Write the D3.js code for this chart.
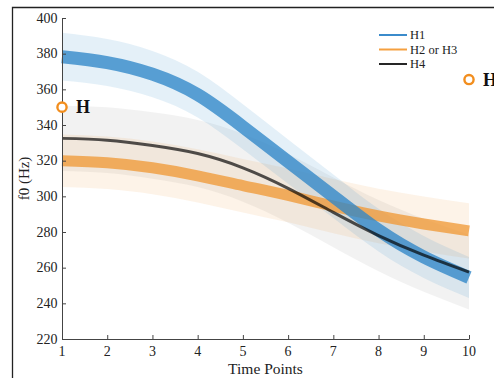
<!DOCTYPE html>
<html>
<head>
<meta charset="utf-8">
<script src="https://cdn.jsdelivr.net/npm/d3@7/dist/d3.min.js"></script>
<style>
  body { margin: 0; background: #fff; }
  svg { display: block; font-family: "Liberation Serif", "Times New Roman", serif; }
</style>
</head>
<body>
<div id="chart"></div>
<script>
// time points on the x axis
var timePoints = [1, 2, 3, 4, 5, 6, 7, 8, 9, 10];

// fitted f0 curves (Hz) and half widths of the shaded bands
var h1Mean = [378.3, 375, 368.5, 357, 339, 319.5, 300, 281, 266, 254.5];
var h1Band = [13.4, 13.2, 13, 12.8, 12.6, 12.4, 12.2, 12, 11.8, 11.5];
var h23Mean = [320, 318.8, 316, 311.5, 306, 300.5, 294.5, 289, 284.5, 280.6];
var h23Band = [14.7, 14.7, 14.8, 14.9, 15, 15.1, 15.2, 15.3, 15.4, 15.5];
var h4Mean = [332.5, 331.5, 328.5, 324, 316, 304.5, 291, 278, 267, 257.5];
var h4Band = [18.3, 18.4, 18.6, 18.8, 19, 19.3, 19.6, 20, 20.5, 21];

var legendNames = ["H1", "H2 or H3", "H4"];
var yTicks = [220, 240, 260, 280, 300, 320, 340, 360, 380, 400];

// the "H" target markers, [time, f0]
var targetLeft = [1, 350];
var targetRight = [10, 365.5];

var W = 494, H = 378;
var svg = d3.select("#chart").append("svg")
  .attr("width", W)
  .attr("height", H);

var x = d3.scaleLinear().domain([1, 10]).range([62, 469]);
var y = d3.scaleLinear().domain([220, 400]).range([339, 18]);

// frame of the cropped figure
svg.append("path")
  .attr("d", "M12.5," + H + "V7.5H" + W)
  .attr("fill", "none")
  .attr("stroke", "#222")
  .attr("stroke-width", 1.3);

var series = [
  {name: "H4", mean: h4Mean, band: h4Band, band_fill: "#7f7f7f", band_op: 0.1},
  {name: "H2 or H3", mean: h23Mean, band: h23Band, band_fill: "#f2a24a", band_op: 0.13},
  {name: "H1", mean: h1Mean, band: h1Band, band_fill: "#4a97d2", band_op: 0.15}
];

var area = function(s) {
  return d3.area()
    .x(function(d, i) { return x(timePoints[i]); })
    .y0(function(d, i) { return y(d - s.band[i]); })
    .y1(function(d, i) { return y(d + s.band[i]); })
    .curve(d3.curveNatural)(s.mean);
};

var line = d3.line()
  .x(function(d, i) { return x(timePoints[i]); })
  .y(function(d) { return y(d); })
  .curve(d3.curveNatural);

svg.append("g").selectAll("path")
  .data(series)
  .enter()
  .append("path")
  .attr("d", area)
  .attr("fill", function(d) { return d.band_fill; })
  .attr("fill-opacity", function(d) { return d.band_op; });

// thick mean curves
svg.append("path")
  .attr("d", line(h23Mean))
  .attr("fill", "none")
  .attr("stroke", "#f09a38")
  .attr("stroke-opacity", 0.78)
  .attr("stroke-width", 11);

svg.append("path")
  .attr("d", line(h1Mean))
  .attr("fill", "none")
  .attr("stroke", "#2f86c8")
  .attr("stroke-opacity", 0.78)
  .attr("stroke-width", 13);

svg.append("path")
  .attr("d", line(h4Mean))
  .attr("fill", "none")
  .attr("stroke", "#000")
  .attr("stroke-opacity", 0.68)
  .attr("stroke-width", 3);

// axes, ticks pointing inward
var axisColor = "#444";
var yAxis = svg.append("g")
  .attr("transform", "translate(" + x(1) + ",0)")
  .call(d3.axisRight(y).tickValues(yTicks).tickSize(4).tickSizeOuter(0).tickFormat(""));
var xAxis = svg.append("g")
  .attr("transform", "translate(0," + y(220) + ")")
  .call(d3.axisTop(x).tickValues(timePoints).tickSize(4).tickSizeOuter(0).tickFormat(""));
[xAxis, yAxis].forEach(function(a) {
  a.select(".domain").attr("stroke", axisColor);
  a.selectAll(".tick line").attr("stroke", axisColor);
});

svg.append("g").selectAll("text")
  .data(yTicks)
  .enter()
  .append("text")
  .attr("x", x(1) - 4.5)
  .attr("y", function(d) { return y(d) + 4.8; })
  .attr("text-anchor", "end")
  .attr("font-size", 14)
  .attr("fill", "#222")
  .text(function(d) { return d; });

svg.append("g").selectAll("text")
  .data(timePoints)
  .enter()
  .append("text")
  .attr("x", function(d) { return x(d); })
  .attr("y", 356)
  .attr("text-anchor", "middle")
  .attr("font-size", 14)
  .attr("fill", "#222")
  .text(function(d) { return d; });

svg.append("text")
  .attr("x", (x(1) + x(10)) / 2)
  .attr("y", 374)
  .attr("text-anchor", "middle")
  .attr("font-size", 15.5)
  .attr("fill", "#222")
  .text("Time Points");

svg.append("text")
  .attr("transform", "translate(29," + y(310) + ") rotate(-90)")
  .attr("text-anchor", "middle")
  .attr("font-size", 15)
  .attr("fill", "#222")
  .text("f0 (Hz)");

// legend
var legendColors = ["#3b8bcb", "#f5a040", "#262626"];
var legend = svg.append("g");
legendNames.forEach(function(name, i) {
  var ly = 35 + i * 14.5;
  legend.append("line")
    .attr("x1", 379).attr("x2", 407)
    .attr("y1", ly).attr("y2", ly)
    .attr("stroke", legendColors[i])
    .attr("stroke-width", 2);
  legend.append("text")
    .attr("x", 410)
    .attr("y", ly + 4)
    .attr("font-size", 12.5)
    .attr("fill", "#222")
    .text(name);
});

// target markers (the right one is cut by the figure edge, as in the source)
[targetLeft, targetRight].forEach(function(t) {
  svg.append("circle")
    .attr("cx", x(t[0]))
    .attr("cy", y(t[1]))
    .attr("r", 4.6)
    .attr("fill", "#fff")
    .attr("stroke", "#f28e1e")
    .attr("stroke-width", 2.4);
  svg.append("text")
    .attr("x", x(t[0]) + 14)
    .attr("y", y(t[1]) + 6)
    .attr("font-size", 18)
    .attr("font-weight", "bold")
    .attr("fill", "#111")
    .text("H");
});
</script>
</body>
</html>
